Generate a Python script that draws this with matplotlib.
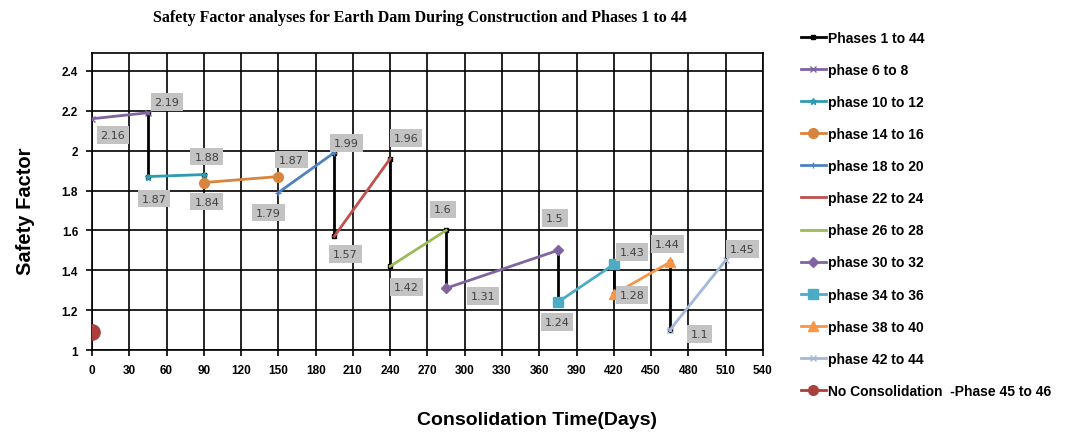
import matplotlib.pyplot as plt
import numpy as np

# consolidation time (days) and safety factor at start / end of each stage
seg_names = ['phase 6 to 8', 'phase 10 to 12', 'phase 14 to 16', 'phase 18 to 20',
             'phase 22 to 24', 'phase 26 to 28', 'phase 30 to 32', 'phase 34 to 36',
             'phase 38 to 40', 'phase 42 to 44']
seg_x0 = [0, 45, 90, 150, 195, 240, 285, 375, 420, 465]
seg_x1 = [45, 90, 150, 195, 240, 285, 375, 420, 465, 510]
seg_y0 = [2.16, 1.87, 1.84, 1.79, 1.57, 1.42, 1.31, 1.24, 1.28, 1.10]
seg_y1 = [2.19, 1.88, 1.87, 1.99, 1.96, 1.60, 1.50, 1.43, 1.44, 1.45]

# vertical drops of "Phases 1 to 44"
drop_x = [45, 90, 195, 240, 285, 375, 420, 465]
drop_top = [2.19, 1.88, 1.99, 1.96, 1.60, 1.50, 1.43, 1.44]
drop_bot = [1.87, 1.84, 1.57, 1.42, 1.31, 1.24, 1.28, 1.10]

nocons_x = [0]
nocons_y = [1.09]

colors = ['#8064A2', '#2E9BB0', '#D9843D', '#4F81BD', '#C0504D',
          '#9BBB59', '#8064A2', '#4BACC6', '#F79646', '#A5B8D7']
markers = ['x', '*', 'o', '+', '', '', 'D', 's', '^', 'x']
msizes = [5, 5, 7, 5, 0, 0, 5, 7, 7, 4]

# label offsets in pixels (start label, end label)
off0 = [(21, -16), (6, -22), (3, -19), (-10, -20), (11, -18),
        (16, -21), (37, -8), (-1, -20), (18, -1), (30, -4)]
off1 = [(19, 11), (3, 18), (13, 17), (12, 10), (16, 21),
        (-3, 21), (-3, 32), (18, 12), (-2, 18), (17, 11)]

fig = plt.figure(figsize=(10.77, 4.35), dpi=100)
ax = fig.add_axes([0.0854, 0.193, 0.623, 0.683])

# black drop line
bx, by = [], []
for x, t, b in zip(drop_x, drop_top, drop_bot):
    bx += [x, x, np.nan]
    by += [t, b, np.nan]
ax.plot(bx, by, color='black', lw=2, marker='s', ms=3, label='Phases 1 to 44', zorder=3)

for i in range(len(seg_names)):
    ax.plot([seg_x0[i], seg_x1[i]], [seg_y0[i], seg_y1[i]], color=colors[i], lw=2,
            marker=markers[i] if markers[i] else None, ms=msizes[i], label=seg_names[i], zorder=4)

ax.plot(nocons_x, nocons_y, color='#A9403D', lw=2, marker='o', ms=11, ls='-',
        label='No Consolidation  -Phase 45 to 46', zorder=4)

box = dict(boxstyle='square,pad=0.35', fc='#C3C3C3', ec='none')
for i in range(len(seg_names)):
    for xv, yv, off in [(seg_x0[i], seg_y0[i], off0[i]), (seg_x1[i], seg_y1[i], off1[i])]:
        ax.annotate('{:g}'.format(yv), (xv, yv), xytext=off, textcoords='offset pixels',
                    ha='center', va='center', fontsize=8, color='#404040', bbox=box, zorder=5)

ax.set_xlim(0, 540)
ax.set_ylim(1, 2.49)
ax.set_xticks(np.arange(0, 541, 30))
ax.set_yticks([1, 1.2, 1.4, 1.6, 1.8, 2, 2.2, 2.4])
ax.set_yticklabels(['1', '1.2', '1.4', '1.6', '1.8', '2', '2.2', '2.4'])
ax.grid(True, color='black', lw=1.2)
ax.set_axisbelow(True)
for s in ax.spines.values():
    s.set_color('black')
    s.set_linewidth(1.2)
ax.tick_params(length=4, width=1.2, color='black', labelsize=8.5, pad=6)
for lab in ax.get_xticklabels() + ax.get_yticklabels():
    lab.set_fontweight('bold')
    lab.set_family('Liberation Sans')

ax.set_ylabel('Safety Factor', fontsize=14.5, fontweight='bold', family='Liberation Sans')
ax.yaxis.set_label_coords(-0.085, 0.47)
fig.text(0.499, 0.033, 'Consolidation Time(Days)', ha='center', va='center',
         fontsize=14, fontweight='bold', family='Liberation Sans')
fig.text(0.39, 0.958, 'Safety Factor analyses for Earth Dam During Construction and Phases 1 to 44',
         ha='center', va='center', fontsize=11.5, fontweight='bold', family='Liberation Serif')

leg = ax.legend(loc='upper left', bbox_to_anchor=(0.732, 0.955), bbox_transform=fig.transFigure,
                frameon=False, handlelength=1.8, handletextpad=0.15, labelspacing=1.3,
                prop={'family': 'Liberation Sans', 'weight': 'bold', 'size': 10})
leg.legend_handles[-1].set_markersize(7)

plt.savefig('out.png', dpi=100)
